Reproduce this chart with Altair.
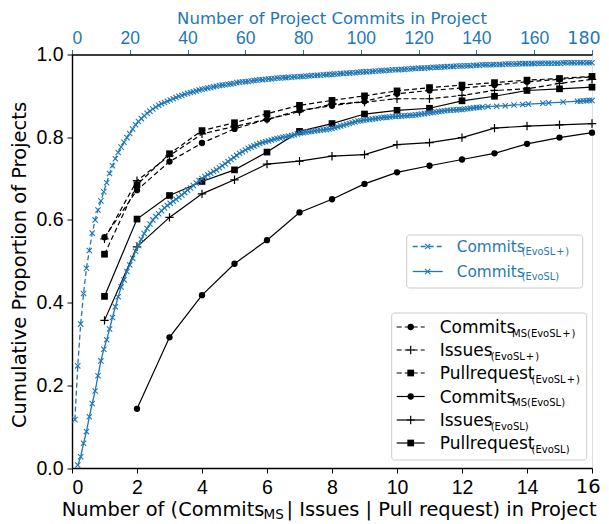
import altair as alt
import pandas as pd

BLUE = '#1f77b4'
FONT = 'DejaVu Sans'
W, H = 520, 413.5

# ---- black series (bottom axis) ----
x_black = list(range(1, 17))
commits_ms_plus = [0.558, 0.672, 0.741, 0.786, 0.820, 0.843, 0.865, 0.876, 0.887, 0.905,
                   0.913, 0.919, 0.926, 0.934, 0.940, 0.946]
issues_plus = [0.554, 0.695, 0.755, 0.808, 0.826, 0.843, 0.862, 0.880, 0.885, 0.893,
               0.893, 0.901, 0.913, 0.917, 0.930, 0.940]
pr_plus = [0.517, 0.685, 0.760, 0.816, 0.835, 0.857, 0.877, 0.889, 0.900, 0.912,
           0.920, 0.926, 0.932, 0.938, 0.942, 0.947]
x_commits_ms = list(range(2, 17))
commits_ms = [0.143, 0.316, 0.418, 0.494, 0.551, 0.618, 0.650, 0.687, 0.715, 0.731,
              0.746, 0.761, 0.784, 0.799, 0.811]
issues = [0.357, 0.535, 0.606, 0.663, 0.697, 0.735, 0.742, 0.754, 0.758, 0.782,
          0.787, 0.799, 0.822, 0.827, 0.830, 0.833]
pr = [0.415, 0.602, 0.659, 0.693, 0.721, 0.764, 0.814, 0.833, 0.856, 0.865,
      0.870, 0.888, 0.899, 0.913, 0.917, 0.921]

# ---- blue series (top axis) ----
x_evo_plus = list(range(1, 181))
commits_evo_plus = [
    0.117, 0.247, 0.348, 0.422, 0.483, 0.526, 0.568, 0.600, 0.624, 0.646,
    0.668, 0.690, 0.712, 0.731, 0.748, 0.763, 0.776, 0.788, 0.799, 0.809,
    0.820, 0.830, 0.838, 0.845, 0.852, 0.858, 0.863, 0.868, 0.873, 0.877,
    0.881, 0.884, 0.887, 0.890, 0.893, 0.896, 0.899, 0.901, 0.904, 0.906,
    0.908, 0.910, 0.912, 0.914, 0.916, 0.917, 0.919, 0.920, 0.922, 0.923,
    0.925, 0.926, 0.927, 0.928, 0.929, 0.930, 0.932, 0.933, 0.934, 0.934,
    0.935, 0.936, 0.937, 0.938, 0.939, 0.939, 0.940, 0.941, 0.941, 0.942,
    0.943, 0.943, 0.944, 0.944, 0.945, 0.945, 0.946, 0.946, 0.947, 0.947,
    0.948, 0.948, 0.949, 0.949, 0.950, 0.950, 0.951, 0.951, 0.952, 0.952,
    0.953, 0.953, 0.954, 0.954, 0.955, 0.955, 0.956, 0.956, 0.957, 0.958,
    0.958, 0.958, 0.959, 0.959, 0.960, 0.960, 0.961, 0.961, 0.962, 0.962,
    0.963, 0.963, 0.963, 0.964, 0.964, 0.965, 0.965, 0.966, 0.966, 0.967,
    0.967, 0.967, 0.968, 0.968, 0.969, 0.969, 0.969, 0.970, 0.970, 0.971,
    0.971, 0.971, 0.972, 0.972, 0.972, 0.973, 0.973, 0.973, 0.974, 0.974,
    0.974, 0.975, 0.975, 0.975, 0.975, 0.976, 0.976, 0.976, 0.976, 0.977,
    0.977, 0.977, 0.977, 0.977, 0.978, 0.978, 0.978, 0.978, 0.978, 0.978,
    0.979, 0.979, 0.979, 0.979, 0.979, 0.979, 0.979, 0.979, 0.979, 0.980,
    0.980, 0.980, 0.980, 0.980, 0.980, 0.980, 0.980, 0.980, 0.980, 0.980]
x_evo = list(range(2, 141)) + [141, 142, 144, 147, 150, 153, 156, 158, 163, 165,
                               170, 175, 176, 177, 178, 179, 180]
commits_evo = [
    0.007, 0.027, 0.060, 0.088, 0.124, 0.156, 0.186, 0.223, 0.259,
    0.287, 0.310, 0.336, 0.364, 0.390, 0.414, 0.438, 0.455, 0.475, 0.491,
    0.507, 0.524, 0.539, 0.553, 0.567, 0.579, 0.590, 0.600, 0.608, 0.615,
    0.622, 0.629, 0.635, 0.640, 0.645, 0.650, 0.655, 0.660, 0.666, 0.672,
    0.677, 0.683, 0.689, 0.695, 0.700, 0.705, 0.709, 0.713, 0.717, 0.721,
    0.726, 0.731, 0.736, 0.741, 0.746, 0.751, 0.756, 0.761, 0.765, 0.769,
    0.773, 0.776, 0.779, 0.782, 0.785, 0.787, 0.789, 0.791, 0.793, 0.795,
    0.797, 0.798, 0.800, 0.801, 0.803, 0.804, 0.806, 0.808, 0.810, 0.811,
    0.812, 0.813, 0.814, 0.815, 0.816, 0.817, 0.818, 0.819, 0.820, 0.821,
    0.823, 0.825, 0.827, 0.829, 0.831, 0.833, 0.835, 0.837, 0.839, 0.840,
    0.841, 0.842, 0.843, 0.844, 0.845, 0.846, 0.847, 0.848, 0.848, 0.849,
    0.850, 0.850, 0.851, 0.851, 0.852, 0.852, 0.853, 0.853, 0.854, 0.855,
    0.856, 0.857, 0.858, 0.859, 0.860, 0.861, 0.862, 0.863, 0.864, 0.865,
    0.865, 0.866, 0.866, 0.867, 0.867, 0.868, 0.869, 0.870, 0.871, 0.872,
    0.872, 0.873, 0.874, 0.875, 0.876, 0.878, 0.879, 0.880, 0.882, 0.883,
    0.885, 0.887, 0.887, 0.888, 0.888, 0.889, 0.889]

bottom_ticks = list(range(0, 17, 2))
top_ticks = list(range(0, 181, 20))
y_ticks = [0.0, 0.2, 0.4, 0.6, 0.8, 1.0]

PLUS = 'M-1,0L1,0M0,-1L0,1'
XMARK = 'M-1,-1L1,1M-1,1L1,-1'
DASH = [5, 3]

left_axis = alt.Axis(values=y_ticks, format='.1f', title=None,
                     labelFontSize=19.5, tickSize=5, labelPadding=4,
                     labelColor='black', tickColor='black',
                     domainColor='black', domainWidth=1.4, grid=False)
bottom_axis = alt.Axis(values=bottom_ticks, title=None, labelFontSize=19.5, tickSize=5,
                       labelPadding=5, labelColor='black', tickColor='black',
                       labelExpr="datum.value == 16 ? '' : datum.label",
                       domainColor='black', domainWidth=1.4, grid=False)
top_axis = alt.Axis(orient='top', values=top_ticks, title=None,
                    labelFontSize=17.5, labelColor=BLUE,
                    labelExpr="datum.value == 180 ? '' : datum.label",
                    tickColor=BLUE, tickSize=5, labelPadding=1.8,
                    domainColor='black', domainWidth=1.4, grid=False)

yenc = alt.Y('y:Q', scale=alt.Scale(domain=[0, 1], nice=False, zero=False), axis=left_axis)
bx_scale = alt.Scale(domain=[0, 16], nice=False, zero=False)
tx_scale = alt.Scale(domain=[0, 180], nice=False, zero=False)


def black_layers(xs, ys, dashed, marker):
    df = pd.DataFrame({'x': xs, 'y': ys})
    xe = alt.X('x:Q', scale=bx_scale, axis=bottom_axis)
    line_kw = dict(color='black', strokeWidth=1.2)
    if dashed:
        line_kw['strokeDash'] = DASH
    line = alt.Chart(df).mark_line(**line_kw).encode(x=xe, y=yenc)
    if marker == 'plus':
        pts = alt.Chart(df).mark_point(shape=PLUS, size=70, filled=False, color='black',
                                       strokeWidth=1.2, opacity=1).encode(x=xe, y=yenc)
    elif marker == 'square':
        pts = alt.Chart(df).mark_point(shape='square', size=45, filled=True, color='black',
                                       opacity=1).encode(x=xe, y=yenc)
    else:
        pts = alt.Chart(df).mark_point(shape='circle', size=40, filled=True, color='black',
                                       opacity=1).encode(x=xe, y=yenc)
    return [line, pts]


black = []
black += black_layers(x_black, commits_ms_plus, True, 'circle')
black += black_layers(x_black, issues_plus, True, 'plus')
black += black_layers(x_black, pr_plus, True, 'square')
black += black_layers(x_commits_ms, commits_ms, False, 'circle')
black += black_layers(x_black, issues, False, 'plus')
black += black_layers(x_black, pr, False, 'square')
black_chart = alt.layer(*black)


def blue_layers(xs, ys, dashed):
    df = pd.DataFrame({'x': xs, 'y': ys})
    xe = alt.X('x:Q', scale=tx_scale, axis=top_axis)
    line_kw = dict(color=BLUE, strokeWidth=1.3)
    if dashed:
        line_kw['strokeDash'] = DASH
    line = alt.Chart(df).mark_line(**line_kw).encode(x=xe, y=yenc)
    pts = alt.Chart(df).mark_point(shape=XMARK, size=28, filled=False, color=BLUE,
                                   strokeWidth=1.1, opacity=1).encode(x=xe, y=yenc)
    return [line, pts]


blue_chart = alt.layer(*(blue_layers(x_evo_plus, commits_evo_plus, True)
                         + blue_layers(x_evo, commits_evo, False)))

# ---- decorations: legends, titles ----
one = pd.DataFrame({'k': [0]})


def txt(s, x, y, size, color='black', baseline='alphabetic', align='left', angle=0):
    return alt.Chart(one).mark_text(text=s, align=align, baseline=baseline, fontSize=size,
                                    font=FONT, color=color, angle=angle).encode(
        x=alt.value(x), y=alt.value(y))


def box(x1, y1, x2, y2):
    return alt.Chart(one).mark_rect(fill='white', fillOpacity=0.85, stroke='#cccccc',
                                    strokeWidth=1, cornerRadius=3).encode(
        x=alt.value(x1), x2=alt.value(x2), y=alt.value(y1), y2=alt.value(y2))


def sample(x1, x2, y, color, dashed, marker):
    kw = dict(color=color, strokeWidth=1.2 if color == 'black' else 1.3)
    if dashed:
        kw['strokeDash'] = DASH
    r = alt.Chart(one).mark_rule(**kw).encode(x=alt.value(x1), x2=alt.value(x2), y=alt.value(y))
    xm = (x1 + x2) / 2
    if marker == 'plus':
        m = alt.Chart(one).mark_point(shape=PLUS, size=70, filled=False, color=color,
                                      strokeWidth=1.2, opacity=1)
    elif marker == 'square':
        m = alt.Chart(one).mark_point(shape='square', size=45, filled=True, color=color, opacity=1)
    elif marker == 'x':
        m = alt.Chart(one).mark_point(shape=XMARK, size=28, filled=False, color=color,
                                      strokeWidth=1.1, opacity=1)
    else:
        m = alt.Chart(one).mark_point(shape='circle', size=40, filled=True, color=color, opacity=1)
    return [r, m.encode(x=alt.value(xm), y=alt.value(y))]


deco = []
# blue legend
deco.append(box(334.7, 180.5, 510.7, 233.5))
blue_rows = [('Commits', '(EvoSL\u200a+\u200a)', True, 192.0), ('Commits', '(EvoSL)', False, 217.0)]
for main, sub, dashed, yy in blue_rows:
    deco += sample(340.7, 370.7, yy, BLUE, dashed, 'x')
    deco.append(txt(main, 384.7, yy + 5.5, 15.3, BLUE))
    deco.append(txt(sub, 449.7, yy + 8.5, 9.8, BLUE))

# black legend
deco.append(box(319.7, 258.5, 514.7, 405.5))
black_rows = [
    ('Commits', 'MS(EvoSL\u200a+\u200a)', True, 'circle', 440.0),
    ('Issues', '(EvoSL\u200a+\u200a)', True, 'plus', 418.7),
    ('Pullrequest', '(EvoSL\u200a+\u200a)', True, 'square', 459.5),
    ('Commits', 'MS(EvoSL)', False, 'circle', 440.0),
    ('Issues', '(EvoSL)', False, 'plus', 418.7),
    ('Pullrequest', '(EvoSL)', False, 'square', 459.5),
]
row_y = [272.5, 295.5, 318.5, 342.0, 365.5, 388.5]
for (main, sub, dashed, marker, sx), yy in zip(black_rows, row_y):
    deco += sample(324.7, 352.7, yy, 'black', dashed, marker)
    deco.append(txt(main, 367.7, yy + 6, 17, 'black'))
    deco.append(txt(sub, sx, yy + 9.5, 10, 'black'))

# bottom axis title with subscript
deco.append(txt('Number of (Commits', -10.3, 461.0, 19.4))
deco.append(txt('MS', 191.5, 464.5, 13.5))
deco.append(txt(' | Issues | Pull request) in Project', 214.5, 461.0, 19.4))
# last tick labels kept inside the page
deco.append(txt('16', 528.7, 438.8, 19.5, 'black', 'alphabetic', 'right'))
deco.append(txt('180', 528.7, -10.5, 17.5, BLUE, 'alphabetic', 'right'))
# top axis title
deco.append(txt('Number of Project Commits in Project', 260.0, -30.9, 16.5, BLUE, 'alphabetic', 'center'))
# y axis title
deco.append(txt('Cumulative Proportion of Projects', -45.8, 210.5, 19.5, 'black', 'alphabetic',
                'center', 270))

chart = alt.layer(black_chart, blue_chart, *deco).resolve_scale(x='independent').properties(
    width=W, height=H,
    autosize=alt.AutoSizeParams(type='none'),
    padding={'left': 64, 'top': 46.5, 'right': 9, 'bottom': 56},
).configure_view(stroke='black', strokeWidth=1.4).configure_axis(
    labelFont=FONT, titleFont=FONT
).configure(background='white')

chart.save('out.html', embed_options={'renderer': 'svg', 'actions': False})
